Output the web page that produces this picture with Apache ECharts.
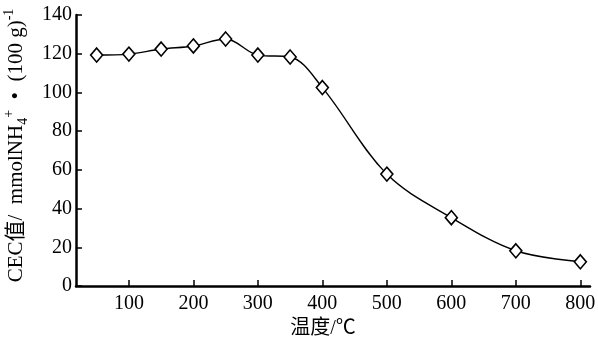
<!DOCTYPE html>
<html>
<head>
<meta charset="utf-8">
<script src="https://cdn.jsdelivr.net/npm/echarts@6/dist/echarts.min.js"></script>
<style>
html,body{margin:0;padding:0;background:#fff;}
#cecChart{width:598px;height:340px;}
</style>
</head>
<body>
<div id="cecChart"></div>
<script>
// 温度 (℃)
var temps = [50, 100, 150, 200, 250, 300, 350, 400, 500, 600, 700, 800];
// CEC值 mmolNH4+/(100 g)
var cecValues = [119.3, 119.8, 122.4, 124.0, 127.6, 119.3, 118.3, 102.5, 57.8, 35.3, 18.2, 12.5];
var xTicks = [100, 200, 300, 400, 500, 600, 700, 800];
var yTicks = [0, 20, 40, 60, 80, 100, 120, 140];

var fontF = '"Liberation Serif", "Noto Sans CJK SC", serif';

var points = [];
for (var i = 0; i < temps.length; i++) {
	points.push([temps[i], cecValues[i]]);
}

var chart = echarts.init(document.getElementById("cecChart"));
var option = {
	animation: false,
	grid: {
		left: 76,
		right: 8,
		top: 15,
		bottom: 54,
		outerBoundsMode: 'none'
	},
	xAxis: {
		type: 'value',
		min: 18,
		max: 815,
		name: '温度/℃',
		nameLocation: 'middle',
		nameGap: 32,
		nameTextStyle: { color: '#000', fontSize: 20, fontFamily: fontF, padding: [0, 20, 0, 0] },
		axisLine: { show: true, lineStyle: { color: '#000', width: 2.5 } },
		axisTick: { show: true, inside: true, length: 6, lineStyle: { color: '#000', width: 1.5 }, customValues: xTicks },
		axisLabel: { color: '#000', fontSize: 20, fontFamily: fontF, margin: 8, customValues: xTicks },
		splitLine: { show: false }
	},
	yAxis: {
		type: 'value',
		min: 0,
		max: 140,
		interval: 20,
		name: '{a|CEC值/  mmolNH}{sub|4}{sup|+}{a|  •  (100 g)}{sup|-1}',
		nameLocation: 'middle',
		nameRotate: 90,
		nameGap: 46,
		nameTextStyle: {
			color: '#000',
			fontFamily: fontF,
			padding: [0, 0, 0, 10],
			rich: {
				a: { fontSize: 21, fontFamily: fontF, color: '#000', lineHeight: 28 },
				sub: { fontSize: 14, fontFamily: fontF, color: '#000', verticalAlign: 'bottom', lineHeight: 28 },
				sup: { fontSize: 14, fontFamily: fontF, color: '#000', verticalAlign: 'top', lineHeight: 28 }
			}
		},
		axisLine: { show: true, lineStyle: { color: '#000', width: 2.5 } },
		axisTick: { show: true, inside: true, length: 6, lineStyle: { color: '#000', width: 1.5 } },
		axisLabel: { color: '#000', fontSize: 20, fontFamily: fontF, margin: 4 },
		splitLine: { show: false }
	},
	series: [{
		type: 'line',
		data: points,
		smooth: 0.35,
		symbol: 'diamond',
		symbolSize: [12, 14],
		lineStyle: { color: '#000', width: 1.4 },
		itemStyle: { color: '#fff', borderColor: '#000', borderWidth: 1.6 }
	}]
};
chart.setOption(option);
</script>
</body>
</html>
